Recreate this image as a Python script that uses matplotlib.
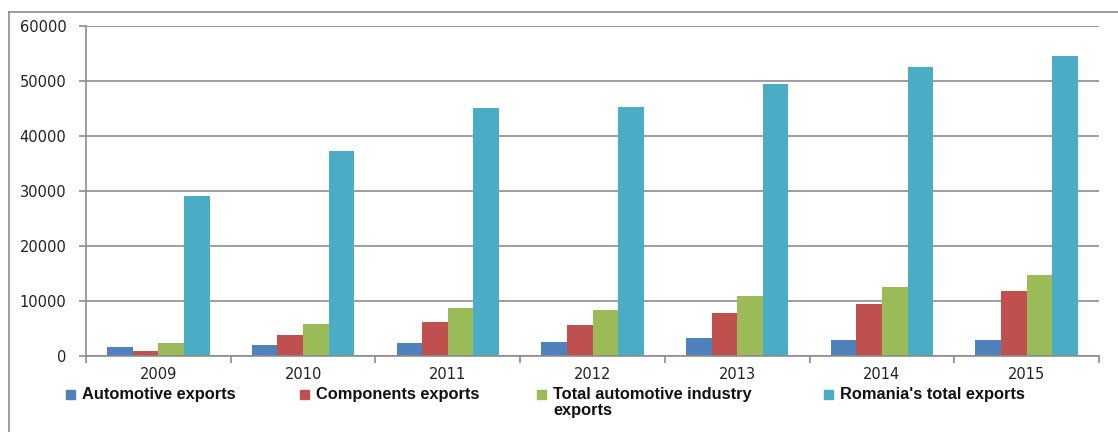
import matplotlib

matplotlib.use("Agg")
import matplotlib.pyplot as plt
import numpy as np
from matplotlib.lines import Line2D
from matplotlib.patches import Rectangle

years = ["2009", "2010", "2011", "2012", "2013", "2014", "2015"]
automotive = [1600, 2000, 2400, 2500, 3300, 2900, 2900]
components = [850, 3800, 6200, 5600, 7800, 9500, 11800]
total_auto = [2400, 5900, 8700, 8300, 10900, 12500, 14700]
romania = [29000, 37300, 45100, 45200, 49500, 52500, 54600]

series = [
    ("Automotive exports", automotive, "#4F81BD"),
    ("Components exports", components, "#C0504D"),
    ("Total automotive industry\nexports", total_auto, "#9BBB59"),
    ("Romania's total exports", romania, "#4BACC6"),
]
legend_x = [66, 300, 537, 824]  # marker left edge, px

W, H = 1118, 432
fig = plt.figure(figsize=(W / 100, H / 100), dpi=100)
ax = fig.add_axes([86 / W, 1 - 356 / H, (1099 - 86) / W, (356 - 26) / H])

x = np.arange(len(years))
bw = 0.177
for i, (name, vals, col) in enumerate(series):
    ax.bar(x + (i - 1.5) * bw, vals, width=bw, color=col, label=name, zorder=2)

ax.set_xlim(-0.5, len(years) - 0.5)
ax.set_ylim(0, 60000)
ax.set_yticks(range(0, 60001, 10000))
ax.grid(axis="y", color="#8c8c8c", linewidth=1.2, zorder=0)
ax.set_axisbelow(True)

for s in ["top", "right"]:
    ax.spines[s].set_visible(False)
for s in ["left", "bottom"]:
    ax.spines[s].set_color("#8c8c8c")
    ax.spines[s].set_linewidth(1.2)

ax.set_xticks(x)
ax.set_xticklabels(years)
ax.set_xticks(np.arange(-0.5, len(years)), minor=True)
ax.tick_params(axis="x", which="major", length=0, pad=8, labelsize=10.5, labelcolor="#222222")
ax.tick_params(axis="x", which="minor", length=5, color="#8c8c8c", width=1.2)
ax.tick_params(axis="y", length=5, color="#8c8c8c", width=1.2, pad=9, labelsize=10.5, labelcolor="#222222")

# legend, laid out by hand like the original
for (name, _, col), lx in zip(series, legend_x):
    fig.add_artist(Rectangle((lx / W, 1 - 399 / H), 9 / W, 9 / H, color=col,
                             transform=fig.transFigure))
    fig.text((lx + 16) / W, 1 - 387 / H, name, ha="left", va="top",
             family="Liberation Sans", weight="bold", size=11.8, color="#111111",
             linespacing=1.05)

# outer chart frame (top and left edges)
fig.add_artist(Line2D([9 / W, 1], [1 - 12 / H, 1 - 12 / H], color="#8c8c8c", linewidth=1.2))
fig.add_artist(Line2D([9 / W, 9 / W], [0, 1 - 12 / H], color="#8c8c8c", linewidth=1.2))

fig.savefig("out.png", dpi=100)
